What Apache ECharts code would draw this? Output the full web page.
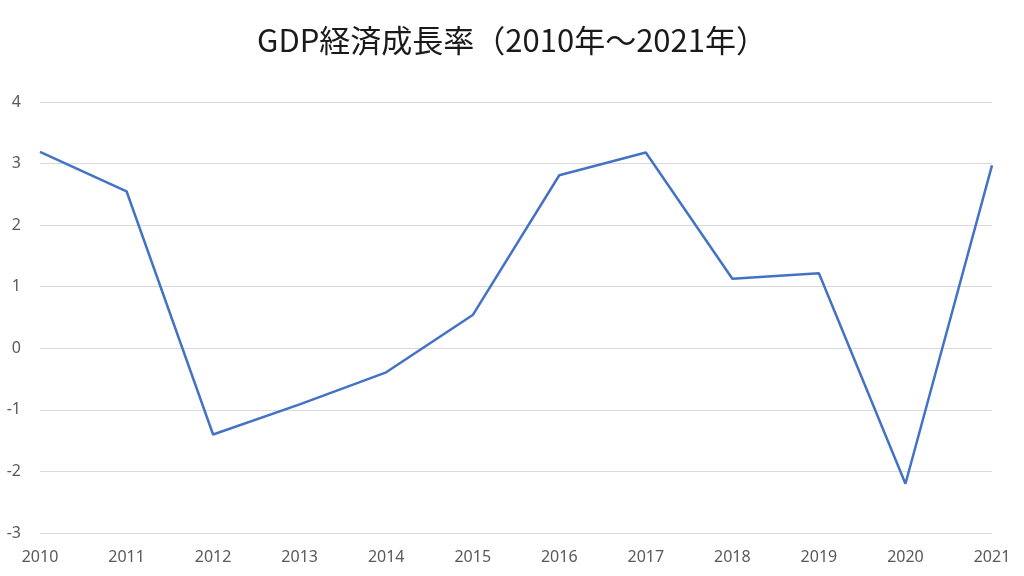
<!DOCTYPE html>
<html>
<head>
<meta charset="utf-8">
<script src="https://cdn.jsdelivr.net/npm/echarts@6/dist/echarts.min.js"></script>
<style>html,body{margin:0;padding:0;background:#fff}#c{width:1024px;height:576px}</style>
</head>
<body>
<div id="c"></div>
<script>
const titleText = 'GDP経済成長率（2010年～2021年）';
const years = ['2010','2011','2012','2013','2014','2015','2016','2017','2018','2019','2020','2021'];
const growth = [3.19, 2.55, -1.40, -0.91, -0.39, 0.54, 2.81, 3.18, 1.13, 1.22, -2.20, 2.97];
const yMin = -3, yMax = 4, yStep = 1;

const chart = echarts.init(document.getElementById('c'), null, {renderer: 'canvas'});
chart.setOption({
  animation: false,
  backgroundColor: '#ffffff',
  title: {
    text: titleText,
    left: 'center',
    top: 20,
    textStyle: {fontFamily: '"Noto Sans CJK JP", "Noto Sans", sans-serif', fontSize: 31, fontWeight: 'normal', color: '#1a1a1a'}
  },
  grid: {left: 40, right: 32, top: 102, bottom: 43, containLabel: false},
  xAxis: {
    type: 'category',
    data: years,
    boundaryGap: false,
    axisLine: {show: false},
    axisTick: {show: false},
    axisLabel: {margin: 16, fontSize: 16, color: '#595959', fontFamily: '"Noto Sans", sans-serif'}
  },
  yAxis: {
    type: 'value',
    min: yMin, max: yMax, interval: yStep,
    axisLine: {show: false},
    axisTick: {show: false},
    axisLabel: {margin: 19, fontSize: 16, color: '#595959', fontFamily: '"Noto Sans", sans-serif'},
    splitLine: {lineStyle: {color: '#d9d9d9', width: 1}}
  },
  series: [{
    type: 'line',
    data: growth,
    symbol: 'none',
    lineStyle: {color: '#4472c4', width: 2.5},
    itemStyle: {color: '#4472c4'}
  }]
});
</script>
</body>
</html>
